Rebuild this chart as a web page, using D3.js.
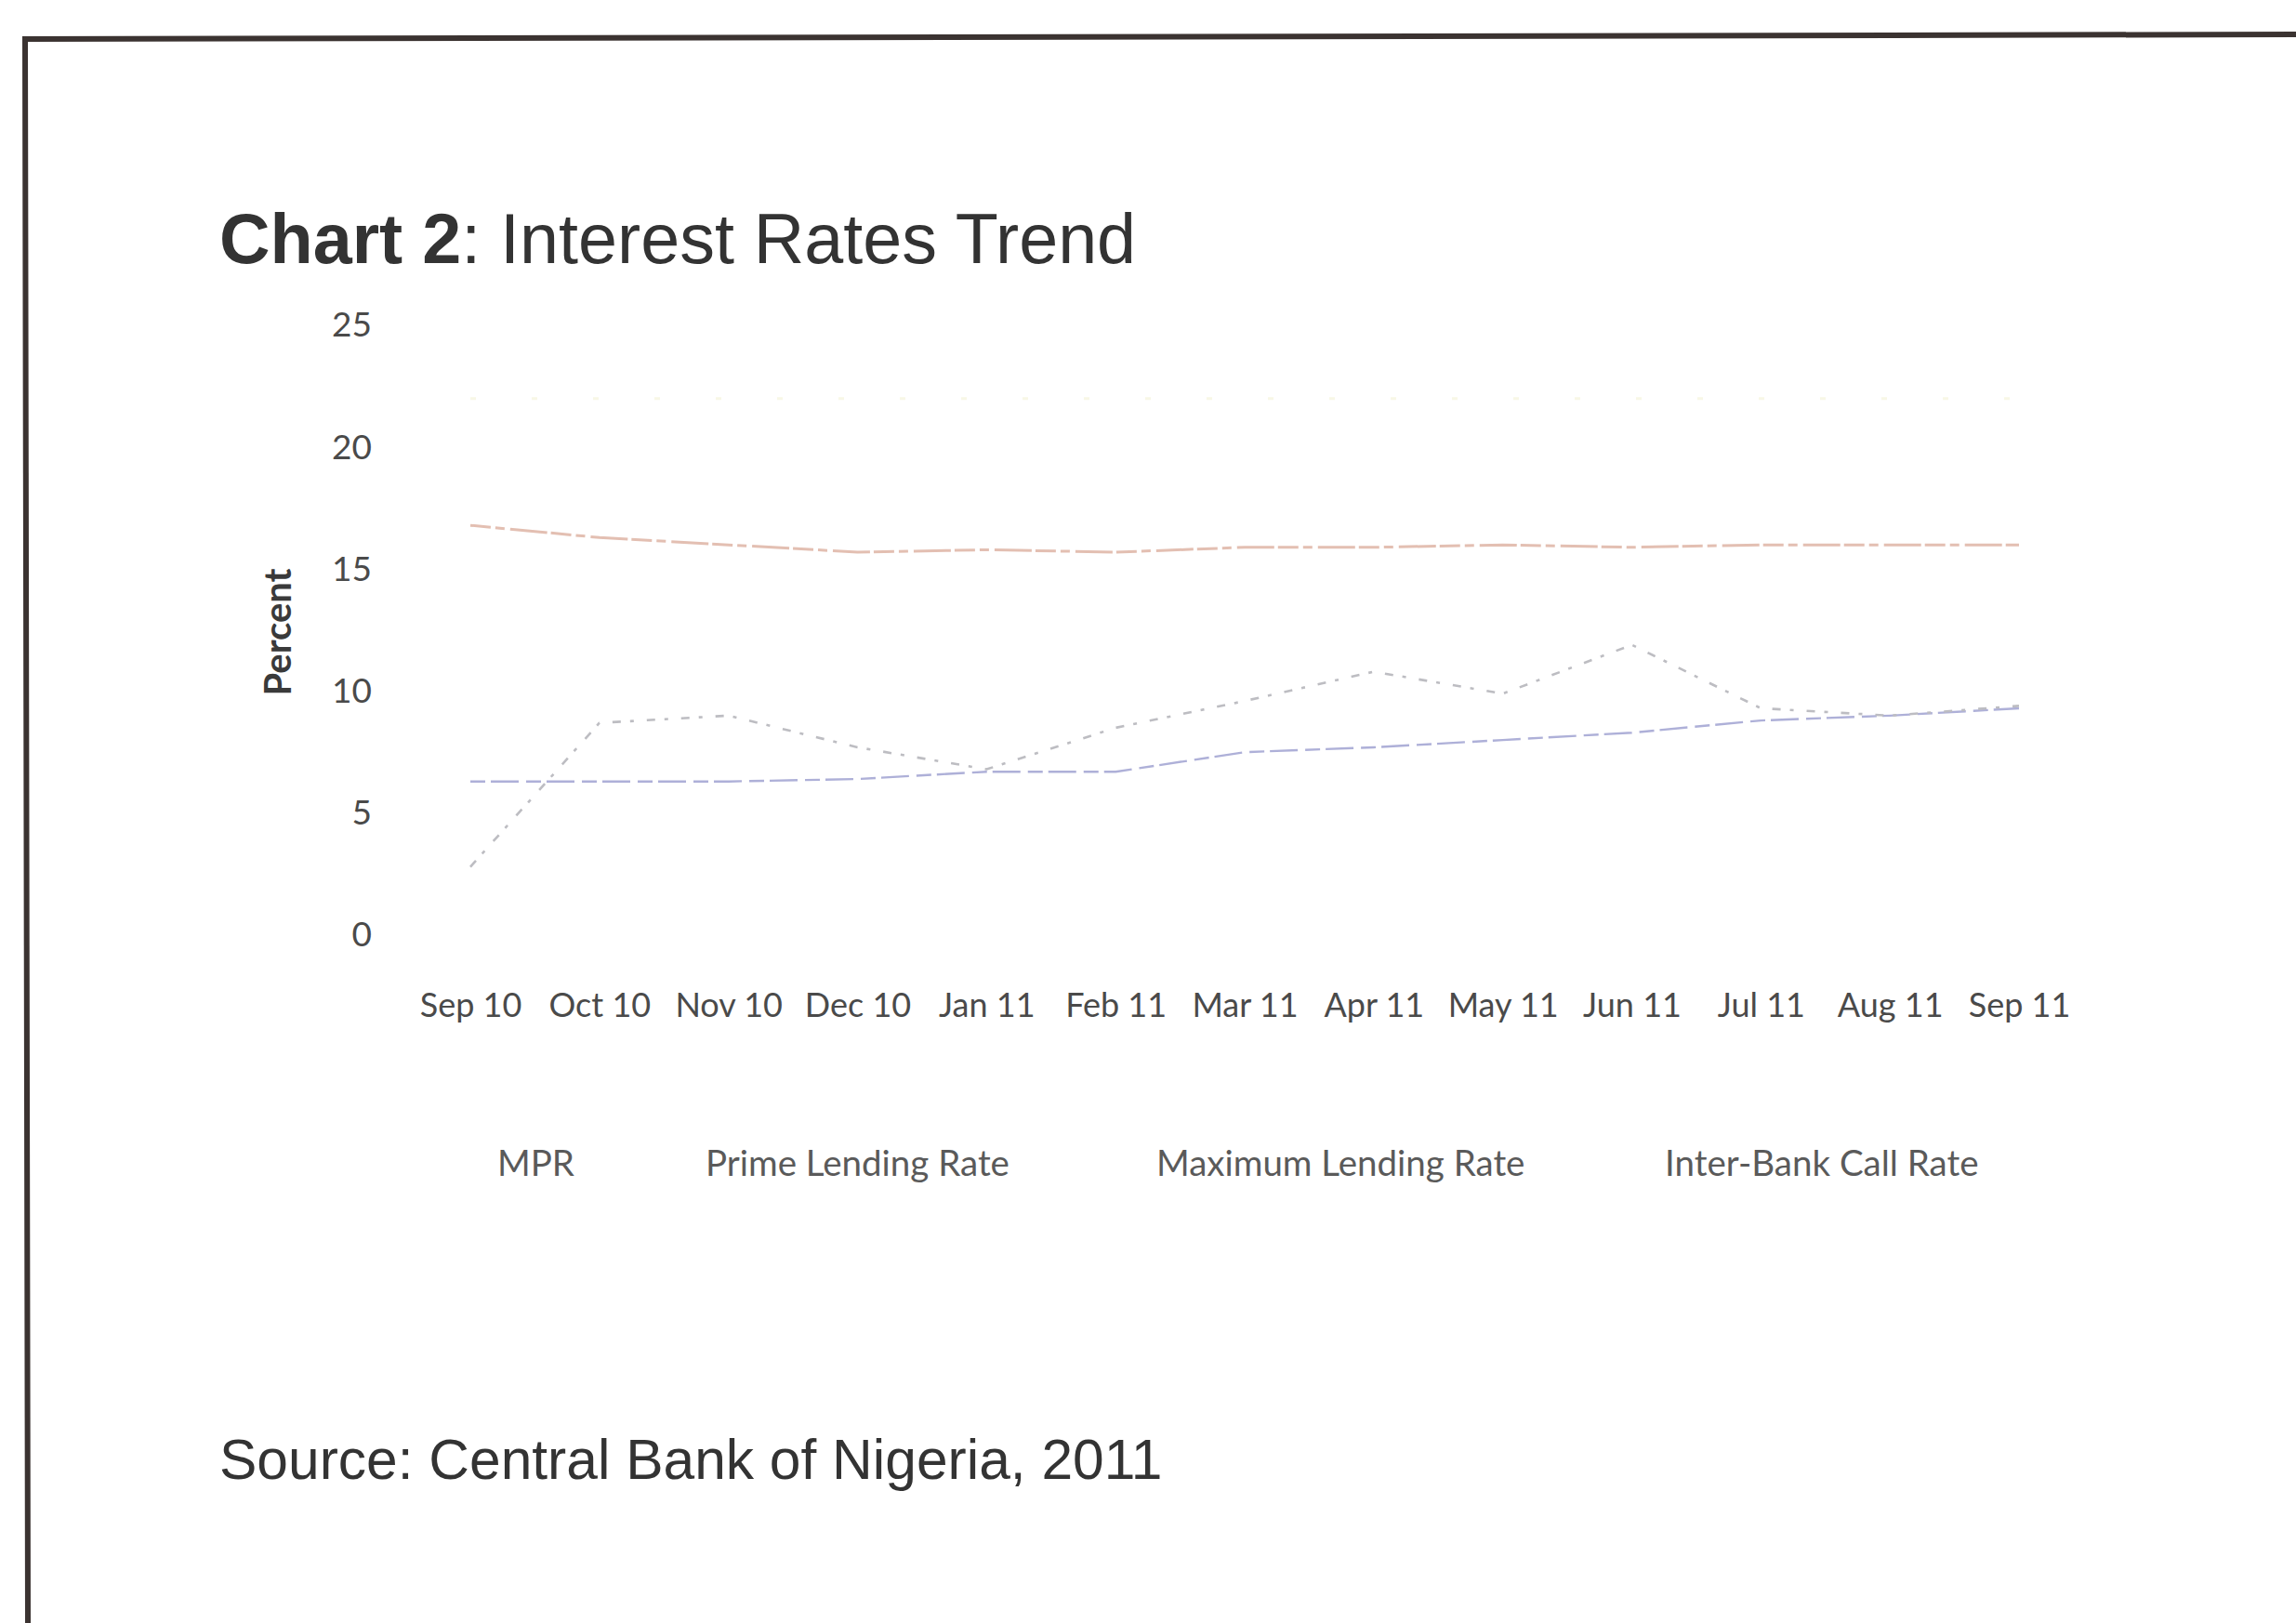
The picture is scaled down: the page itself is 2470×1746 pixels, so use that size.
<!DOCTYPE html>
<html>
<head>
<meta charset="utf-8">
<script src="https://cdn.jsdelivr.net/npm/d3@7"></script>
<style>
  html, body { margin: 0; padding: 0; background: #ffffff; }
  svg { display: block; }
</style>
</head>
<body>
<svg id="chart" width="2470" height="1746"></svg>
<script>
// ---- data ----
const months = ["Sep 10","Oct 10","Nov 10","Dec 10","Jan 11","Feb 11","Mar 11","Apr 11","May 11","Jun 11","Jul 11","Aug 11","Sep 11"];
const mpr            = [6.3, 6.3, 6.3, 6.4, 6.7, 6.7, 7.5, 7.7, 8.0, 8.3, 8.8, 9.0, 9.3];
const primeLending   = [16.8, 16.3, 16.0, 15.7, 15.8, 15.7, 15.9, 15.9, 16.0, 15.9, 16.0, 16.0, 16.0];
const maxLending     = [22.0, 22.0, 22.0, 22.0, 22.0, 22.0, 22.0, 22.0, 22.0, 22.0, 22.0, 22.0, 22.0];
const interBank      = [2.8, 8.7, 9.0, 7.7, 6.8, 8.5, 9.6, 10.8, 9.9, 11.9, 9.3, 9.0, 9.4];
const yTicks         = [0, 5, 10, 15, 20, 25];
const seriesNames    = ["MPR", "Prime Lending Rate", "Maximum Lending Rate", "Inter-Bank Call Rate"];

const series = [
  { name: seriesNames[0], values: mpr,          color: "#aeb0d8", width: 2.4, dash: "16,6,30,8" },
  { name: seriesNames[1], values: primeLending, color: "#e3bfb2", width: 3,   dash: "22,5,10,6,40,4" },
  { name: seriesNames[2], values: maxLending,   color: "#f8f7e6", width: 3,   dash: "6,60" },
  { name: seriesNames[3], values: interBank,    color: "#bdbdc2", width: 2.6, dash: "9,10,4,14" }
];

const svg = d3.select("#chart");

// ---- frame (scanned page border) ----
svg.append("path")
  .attr("d", d3.line()([[30, 1746], [27, 42], [2470, 37]]))
  .attr("fill", "none")
  .attr("stroke", "#3b3331")
  .attr("stroke-width", 6);

// ---- title ----
const title = svg.append("text")
  .attr("x", 236).attr("y", 283)
  .attr("font-family", "'Liberation Sans', Arial, sans-serif")
  .attr("font-size", 75.5)
  .attr("fill", "#333333");
title.append("tspan").attr("font-weight", "bold").text("Chart 2");
title.append("tspan").text(": Interest Rates Trend");

// ---- scales ----
const x = d3.scalePoint().domain(months).range([506, 2172]);
const y = d3.scaleLinear().domain([0, 25]).range([1006, 350]);

// ---- y axis ----
const yAxis = svg.append("g")
  .attr("transform", "translate(400,0)")
  .call(d3.axisLeft(y).tickValues(yTicks).tickSize(0).tickPadding(0));
yAxis.select(".domain").remove();
yAxis.selectAll("text")
  .attr("font-family", "Lato, sans-serif")
  .attr("font-size", 37)
  .attr("fill", "#4a4a4a");

// ---- x axis ----
const xAxis = svg.append("g")
  .attr("transform", "translate(0,1068)")
  .call(d3.axisBottom(x).tickSize(0).tickPadding(0));
xAxis.select(".domain").remove();
xAxis.selectAll("text")
  .attr("font-family", "Lato, sans-serif")
  .attr("font-size", 36)
  .attr("fill", "#4a4a4a");

// ---- y title ----
svg.append("text")
  .attr("transform", "translate(313,680) rotate(-90)")
  .attr("text-anchor", "middle")
  .attr("font-family", "Lato, sans-serif")
  .attr("font-weight", "bold")
  .attr("font-size", 40)
  .attr("fill", "#3a3a3a")
  .text("Percent");

// ---- lines ----
const line = d3.line()
  .x((d, i) => x(months[i]))
  .y(d => y(d));

svg.append("g").selectAll("path")
  .data(series)
  .join("path")
  .attr("d", d => line(d.values))
  .attr("fill", "none")
  .attr("stroke", d => d.color)
  .attr("stroke-width", d => d.width)
  .attr("stroke-dasharray", d => d.dash)
  .attr("stroke-linejoin", "round");

// ---- legend (line keys faded away in the scan; text only visible) ----
const legendX = [535, 759, 1244, 1791];
const legend = svg.append("g");
legend.selectAll("text")
  .data(series)
  .join("text")
  .attr("x", (d, i) => legendX[i])
  .attr("y", 1265)
  .attr("font-family", "Lato, sans-serif")
  .attr("font-size", 38.5)
  .attr("fill", "#5a5a5a")
  .text(d => d.name);

// ---- source ----
svg.append("text")
  .attr("x", 236).attr("y", 1591)
  .attr("font-family", "'Liberation Sans', Arial, sans-serif")
  .attr("font-size", 60.5)
  .attr("fill", "#333333")
  .text("Source: Central Bank of Nigeria, 2011");
</script>
</body>
</html>
